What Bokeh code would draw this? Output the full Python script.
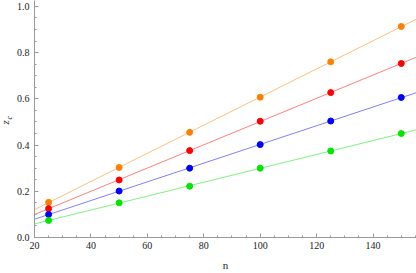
import numpy as np
from bokeh.plotting import figure
from bokeh.models import Range1d, FixedTicker, PrintfTickFormatter, Title
from bokeh.embed import file_html
from bokeh.resources import INLINE

n_vals = [25, 50, 75, 100, 125, 150]
orange_vals = [0.152, 0.303, 0.455, 0.607, 0.760, 0.913]
red_vals = [0.125, 0.249, 0.376, 0.503, 0.627, 0.753]
blue_vals = [0.100, 0.201, 0.300, 0.402, 0.504, 0.606]
green_vals = [0.074, 0.150, 0.222, 0.300, 0.374, 0.450]

x_ticks = [20, 40, 60, 80, 100, 120, 140]
y_ticks = [0.0, 0.2, 0.4, 0.6, 0.8, 1.0]

series = [
    (orange_vals, "#FF8000"),
    (red_vals, "#FF0000"),
    (blue_vals, "#0000FF"),
    (green_vals, "#00E600"),
]

p = figure(width=416, height=273, output_backend="svg", toolbar_location=None,
           x_range=Range1d(20, 155.4), y_range=Range1d(0, 1.0255),
           min_border_left=34, min_border_right=0, min_border_top=0, min_border_bottom=32)
p.outline_line_color = None
p.grid.visible = False
p.background_fill_color = "white"

fx = np.array([20.0, 160.0])
for vals, col in series:
    xa = np.array(n_vals, dtype=float)
    ya = np.array(vals)
    k, b = np.polyfit(xa, ya, 1)
    p.line(fx, k * fx + b, line_color=col, line_alpha=0.5, line_width=1)
for vals, col in series:
    p.scatter(n_vals, vals, size=6, fill_color=col, line_color=col)

p.xaxis.ticker = FixedTicker(ticks=x_ticks, minor_ticks=list(range(20, 160, 5)))
p.yaxis.ticker = FixedTicker(ticks=y_ticks, minor_ticks=[i * 0.05 for i in range(21)])
p.yaxis.formatter = PrintfTickFormatter(format="%.1f")

for ax in [p.xaxis[0], p.yaxis[0]]:
    ax.axis_line_color = "#9a9a9a"
    ax.major_tick_line_color = "#9a9a9a"
    ax.minor_tick_line_color = "#9a9a9a"
    ax.major_tick_in = 4
    ax.major_tick_out = 0
    ax.minor_tick_in = 2
    ax.minor_tick_out = 0
    ax.major_label_text_font = "Liberation Serif"
    ax.major_label_text_font_size = "10px"
    ax.major_label_text_color = "#222222"

p.xaxis.major_label_standoff = 4
p.yaxis.major_label_standoff = 5
p.xaxis.axis_label = "n"
p.xaxis.axis_label_text_font = "Liberation Serif"
p.xaxis.axis_label_text_font_style = "normal"
p.xaxis.axis_label_text_font_size = "11px"
p.xaxis.axis_label_text_color = "#222222"
p.xaxis.axis_label_standoff = 7

# y label "z" with subscript "c", as two stacked left-side titles
p.add_layout(Title(text="c", align="left", offset=118, vertical_align="top",
                   standoff=-4, text_font="Liberation Serif", text_font_style="italic",
                   text_font_size="8px", text_color="#222222"), "left")
p.add_layout(Title(text="z", align="left", offset=113, vertical_align="middle",
                   standoff=-10, text_font="Liberation Serif", text_font_style="italic",
                   text_font_size="11px", text_color="#222222"), "left")

open("out.html", "w").write(file_html(p, INLINE))
